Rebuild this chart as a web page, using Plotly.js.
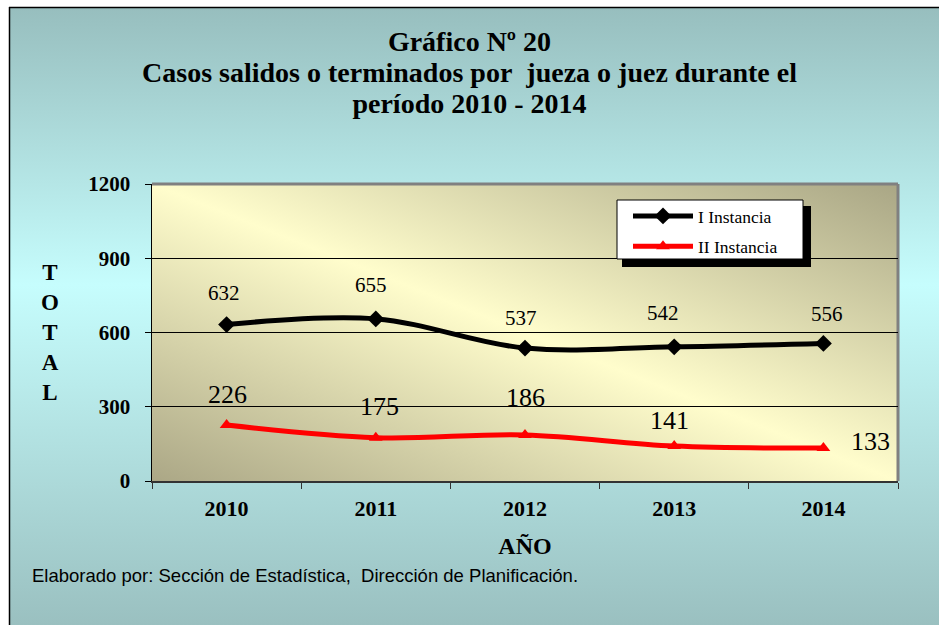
<!DOCTYPE html>
<html>
<head>
<meta charset="utf-8">
<script src="https://cdn.plot.ly/plotly-3.0.1.min.js"></script>
<style>
  html, body { margin: 0; padding: 0; background: #ffffff; }
  #chart { width: 939px; height: 625px; }
</style>
</head>
<body>
<div id="chart"></div>
<script>
// ---- data ----
const years = ['2010', '2011', '2012', '2013', '2014'];
const seriesNames = ['I Instancia', 'II Instancia'];
const primeraInstancia = [632, 655, 537, 542, 556];
const segundaInstancia = [226, 175, 186, 141, 133];
const yTicks = [0, 300, 600, 900, 1200];

const titleLines = ['Gráfico Nº 20', 'Casos salidos o terminados por\u00a0 jueza o juez durante el', 'período 2010 - 2014'];
const sourceText = 'Elaborado por: Sección de Estadística,\u00a0 Dirección de Planificación.';

// ---- geometry helpers (pixel -> paper) ----
const W = 939, H = 625;
const M = { l: 152, r: 41, t: 184, b: 144 };
const PW = W - M.l - M.r, PH = H - M.t - M.b;
const px = x => (x - M.l) / PW;
const py = y => (H - M.b - y) / PH;

const serif = 'Liberation Serif, Times New Roman, serif';

function svgUri(svg) { return 'data:image/svg+xml;charset=utf-8,' + encodeURIComponent(svg); }

const outerBg = svgUri(
  '<svg xmlns="http://www.w3.org/2000/svg" width="100" height="100" viewBox="0 0 100 100" preserveAspectRatio="none">' +
  '<defs><linearGradient id="g" x1="0" y1="0" x2="0" y2="1">' +
  '<stop offset="0" stop-color="#97bebe"/><stop offset="0.45" stop-color="#c6fdfd"/><stop offset="1" stop-color="#9ac0c0"/>' +
  '</linearGradient></defs><rect width="100" height="100" fill="url(#g)"/></svg>');

const plotBg = svgUri(
  '<svg xmlns="http://www.w3.org/2000/svg" width="100" height="100" viewBox="0 0 100 100" preserveAspectRatio="none">' +
  '<defs><linearGradient id="p" x1="0" y1="1" x2="1" y2="0">' +
  '<stop offset="0" stop-color="#aba786"/><stop offset="0.5" stop-color="#fffdcc"/><stop offset="1" stop-color="#a9a685"/>' +
  '</linearGradient></defs><rect width="100" height="100" fill="url(#p)"/></svg>');

const traces = [
  {
    x: years, y: primeraInstancia, name: seriesNames[0], type: 'scatter', mode: 'lines+markers',
    line: { color: '#000000', width: 5, shape: 'spline', smoothing: 1 },
    marker: { symbol: 'diamond', size: 13, color: '#000000' },
    legendgroup: 'a'
  },
  {
    x: years, y: segundaInstancia, name: seriesNames[1], type: 'scatter', mode: 'lines+markers',
    line: { color: '#ff0000', width: 5, shape: 'spline', smoothing: 1 },
    marker: { symbol: 'triangle-up', size: 12, color: '#ff0000' },
    legendgroup: 'b'
  }
];

// label placement (pixel offsets)
const shiftI = [[-3, 32], [-5, 34], [-4, 30], [-11, 34], [4, 29]];
const shiftII = [[1, 31], [4, 31], [0, 37], [-5, 26], [47, 7]];

const annotations = [];
years.forEach((yr, i) => {
  annotations.push({
    x: i, y: primeraInstancia[i], xref: 'x', yref: 'y', text: String(primeraInstancia[i]),
    showarrow: false, xshift: shiftI[i][0], yshift: shiftI[i][1],
    font: { family: serif, size: 21, color: '#000000' }
  });
  annotations.push({
    x: i, y: segundaInstancia[i], xref: 'x', yref: 'y', text: String(segundaInstancia[i]),
    showarrow: false, xshift: shiftII[i][0], yshift: shiftII[i][1],
    font: { family: serif, size: 26, color: '#000000' }
  });
});
annotations.push({
  xref: 'paper', yref: 'paper', x: px(50), y: py(332), xanchor: 'center', yanchor: 'middle',
  text: '<b>T<br>O<br>T<br>A<br>L</b>', showarrow: false, align: 'center',
  font: { family: serif, size: 23, color: '#000000' }
});
annotations.push({
  xref: 'paper', yref: 'paper', x: px(30), y: py(575), xanchor: 'left', yanchor: 'middle',
  text: sourceText, showarrow: false,
  font: { family: 'Liberation Sans, Arial, sans-serif', size: 18.5, color: '#000000' }
});

const layout = {
  width: W, height: H,
  margin: M,
  paper_bgcolor: '#ffffff',
  plot_bgcolor: 'rgba(0,0,0,0)',
  showlegend: true,
  title: {
    text: titleLines.map(s => '<span style="font-size:28px"><b>' + s + '</b></span>').join('<br>'),
    x: 0.5, xref: 'container', xanchor: 'center',
    y: 1 - 51 / H, yref: 'container', yanchor: 'top',
    font: { family: serif, size: 24, color: '#000000' }
  },
  xaxis: {
    type: 'category', categoryorder: 'array', categoryarray: years,
    range: [-0.5, 4.5],
    showline: true, linecolor: '#333333', linewidth: 2,
    ticks: 'outside', tickson: 'boundaries', ticklen: 6, tickcolor: '#333333', tickwidth: 1,
    showgrid: false, zeroline: false,
    ticklabelstandoff: 7,
    tickfont: { family: serif, size: 22, color: '#000000', weight: 'bold' },
    title: { text: '<b>AÑO</b>', standoff: 17, font: { family: serif, size: 24, color: '#000000' } }
  },
  yaxis: {
    range: [0, 1200], tickvals: yTicks, ticktext: yTicks.map(String),
    showline: true, linecolor: '#000000', linewidth: 1.5,
    ticks: 'outside', ticklen: 6, tickcolor: '#000000', tickwidth: 1,
    showgrid: true, gridcolor: '#000000', gridwidth: 1, zeroline: false,
    ticklabelstandoff: 10,
    tickfont: { family: serif, size: 21, color: '#000000', weight: 'bold' }
  },
  legend: {
    x: px(628), y: py(198), xref: 'paper', yref: 'paper', xanchor: 'left', yanchor: 'top',
    bgcolor: 'rgba(0,0,0,0)', borderwidth: 0,
    traceorder: 'grouped', tracegroupgap: 4.5, itemwidth: 60,
    font: { family: serif, size: 17.5, color: '#000000' }
  },
  images: [
    { source: outerBg, xref: 'paper', yref: 'paper', x: px(9), y: py(7), sizex: (W - 9) / PW, sizey: (H - 7) / PH,
      xanchor: 'left', yanchor: 'top', sizing: 'stretch', layer: 'below' },
    { source: plotBg, xref: 'paper', yref: 'paper', x: 0, y: 1, sizex: 1, sizey: 1,
      xanchor: 'left', yanchor: 'top', sizing: 'stretch', layer: 'below' }
  ],
  shapes: [
    // outer frame
    { type: 'line', xref: 'paper', yref: 'paper', x0: px(9), x1: px(W + 5), y0: py(7.5), y1: py(7.5), line: { color: '#000000', width: 1.5 } },
    { type: 'line', xref: 'paper', yref: 'paper', x0: px(9.5), x1: px(9.5), y0: py(7), y1: py(H + 5), line: { color: '#000000', width: 1.5 } },
    // plot area border (top/right gray)
    { type: 'line', xref: 'paper', yref: 'paper', x0: 0, x1: 1, y0: 1, y1: 1, line: { color: '#808080', width: 3 }, layer: 'below' },
    { type: 'line', xref: 'paper', yref: 'paper', x0: 1, x1: 1, y0: 0, y1: 1, line: { color: '#808080', width: 3 }, layer: 'below' },
    // legend shadow and box
    { type: 'rect', xref: 'paper', yref: 'paper', x0: px(622), x1: px(811), y0: py(206), y1: py(267), fillcolor: '#000000', line: { width: 0 } },
    { type: 'rect', xref: 'paper', yref: 'paper', x0: px(617), x1: px(803), y0: py(200), y1: py(259), fillcolor: '#ffffff', line: { color: '#000000', width: 1 } }
  ],
  annotations: annotations
};

Plotly.newPlot('chart', traces, layout, { displayModeBar: false, staticPlot: true });
</script>
</body>
</html>
